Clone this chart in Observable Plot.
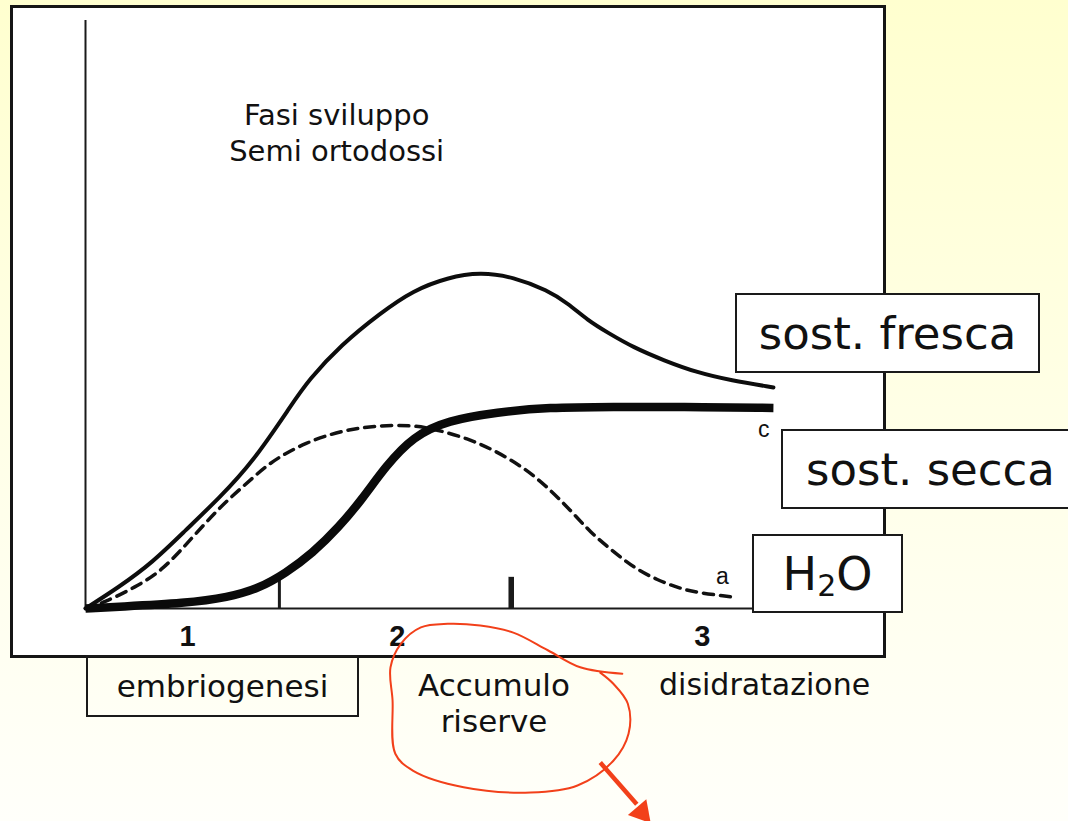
<!DOCTYPE html>
<html>
<head>
<meta charset="utf-8">
<script src="https://cdn.jsdelivr.net/npm/d3@7"></script>
<script src="https://cdn.jsdelivr.net/npm/@observablehq/plot@0.6"></script>
<style>
  html, body { margin: 0; padding: 0; }
  body { width: 1068px; height: 821px; overflow: hidden; position: relative;
         background: linear-gradient(to bottom, #FFFFCF 0%, #FFFFE6 50%, #FFFFFA 100%);
         font-family: "DejaVu Sans", sans-serif; color: #111; }
  #panel { position: absolute; left: 10px; top: 5px; width: 870px; height: 647px;
           background: #fff; border: 3px solid #151515; }
  #chart { position: absolute; left: 0; top: 0; }
  #chart svg { background: transparent; overflow: visible; }
  .box { position: absolute; box-sizing: border-box; border: 2.5px solid #1a1a1a;
         display: flex; align-items: center; justify-content: center; white-space: nowrap; }
  .lbl { position: absolute; white-space: nowrap; }
</style>
</head>
<body>
<div id="panel"></div>
<div id="chart"></div>

<div class="box" style="left:735px; top:293px; width:305px; height:80px; background:#fff; font-size:45px;">sost. fresca</div>
<div class="box" style="left:781px; top:429px; width:320px; height:80px; background:#fff; font-size:45px; justify-content:flex-start; padding-left:23px;">sost. secca</div>
<div class="box" style="left:752px; top:534px; width:151px; height:79px; background:#fff; font-size:46px;">H<span style="font-size:30px; position:relative; top:12px;">2</span>O</div>
<div class="box" style="left:86px; top:655px; width:273px; height:62px; font-size:31px;">embriogenesi</div>
<div class="lbl" style="left:394px; top:667px; width:200px; text-align:center; font-size:31px; line-height:36px;">Accumulo<br>riserve</div>
<div class="lbl" style="left:659px; top:667px; font-size:30px; line-height:36px;">disidratazione</div>

<script>
// x: tempo di sviluppo (0–100), y: valore relativo (0–100)
const sostFresca = [[0,0],[4.8,3.6],[9.7,7.8],[14.5,13.3],[19.3,18.7],[24.2,24.8],[30,34.9],[32.3,38.8],[37,44.8],[42.8,50.3],[47.5,54.1],[52.5,56.3],[57.2,57.2],[62,56.4],[67,54.1],[69.9,51.9],[72.8,49],[75.7,46.9],[79.4,44.4],[83.8,42.2],[88.7,40.1],[93.5,38.8],[99.7,37.6]];
const sostSecca = [[0,0],[4.8,0.3],[14.5,0.9],[20.7,1.9],[25.1,3.4],[29,6],[32.9,9.4],[36.7,13.8],[40.1,18.6],[43.5,24.2],[47.5,29.3],[52.5,32],[59.7,33.4],[67,34.2],[76.5,34.3],[86.2,34.3],[99.7,34.1]];
const acqua = [[0,0],[2.5,0.9],[7.2,3.6],[11.2,6.5],[15.5,12.1],[19.3,17],[22.2,20.1],[24.6,22.6],[26.5,24.5],[29,26.4],[31.9,28.1],[34.8,29.4],[38.1,30.4],[42,31.1],[47.5,31.2],[51,30.4],[55.4,28.9],[59.1,27],[63.5,24],[67,20.6],[70.3,16.7],[73.2,12.9],[76.4,9.8],[79.4,7],[82.9,4.8],[86.2,3.4],[88.7,2.7],[92.8,2.1],[94.2,1.9]];

const fasi = ["1", "2", "3"];
const fasiX = [14.8, 45.2, 89.4];
const limitiFase = [28.1, 61.7];
const limitiAltezza = [4.8, 5.3];
const etichetteCurve = ["c", "a"];
const etichetteX = [98.3, 92.3];
const etichetteY = [30.4, 5.4];
const titolo = "Fasi sviluppo\nSemi ortodossi";

// annotazione a mano (cerchio rosso e freccia)
const cerchio = [[77.8,-11.1],[71.7,-10],[67,-7.1],[62,-4.1],[57.2,-2.9],[52.5,-2.6],[48.6,-3.2],[45.7,-6],[44.2,-10],[44.5,-15.6],[44.9,-24.7],[47.5,-27.6],[54.8,-30.4],[64.5,-31.3],[71.3,-30.1],[76.5,-25.9],[78.7,-21.3],[78.6,-16.2],[76.5,-12.8],[74.6,-10.9]];
const freccia = [{x1: 74.6, y1: -26.2, x2: 79.9, y2: -33.3}];
const puntaFreccia = [{x: 80.6, y: -34.7, angolo: 139.4}];

const X = d => d[0], Y = d => d[1];
const red = "#f2401a";

const chart = Plot.plot({
  width: 1068, height: 821,
  marginLeft: 85, marginRight: 293, marginTop: 20, marginBottom: 213,
  x: {domain: [0, 100], axis: null},
  y: {domain: [0, 100], axis: null},
  style: {background: "transparent", overflow: "visible"},
  marks: [
    Plot.ruleX([0], {y1: 0, y2: 100, stroke: "#1a1a1a", strokeWidth: 2}),
    Plot.ruleY([0], {x1: 0, x2: 97, stroke: "#1a1a1a", strokeWidth: 2}),
    Plot.ruleX([limitiFase[0]], {y1: 0, y2: limitiAltezza[0], stroke: "#1a1a1a", strokeWidth: 3}),
    Plot.ruleX([limitiFase[1]], {y1: 0, y2: limitiAltezza[1], stroke: "#1a1a1a", strokeWidth: 5.5}),
    Plot.line(acqua, {x: X, y: Y, stroke: "#111", strokeWidth: 3.5, strokeDasharray: "10,7", curve: "basis"}),
    Plot.line(sostFresca, {x: X, y: Y, stroke: "#0d0d0d", strokeWidth: 4, curve: "basis"}),
    Plot.line(sostSecca, {x: X, y: Y, stroke: "#0a0a0a", strokeWidth: 8.5, curve: "basis", strokeLinecap: "butt"}),
    Plot.text(fasi, {x: (d, i) => fasiX[i], y: -4.8, text: d => d, fontSize: 29, fontWeight: "bold", fontFamily: "Liberation Sans, Arial, sans-serif", fill: "#111"}),
    Plot.text(etichetteCurve, {x: (d, i) => etichetteX[i], y: (d, i) => etichetteY[i], text: d => d, fontSize: 23, fontFamily: "Liberation Sans, Arial, sans-serif", fill: "#111"}),
    Plot.text([titolo], {x: 36.4, y: 81.1, text: d => d, fontSize: 29, lineHeight: 1.25, fontFamily: "DejaVu Sans, sans-serif", fill: "#111"}),
    Plot.line(cerchio, {x: X, y: Y, stroke: red, strokeWidth: 2, curve: "catmull-rom"}),
    Plot.link(freccia, {x1: "x1", y1: "y1", x2: "x2", y2: "y2", stroke: red, strokeWidth: 4.5}),
    Plot.dot(puntaFreccia, {x: "x", y: "y", symbol: "triangle", r: 9, fill: red, stroke: "none", rotate: "angolo"})
  ]
});
document.getElementById("chart").appendChild(chart);
</script>
</body>
</html>
